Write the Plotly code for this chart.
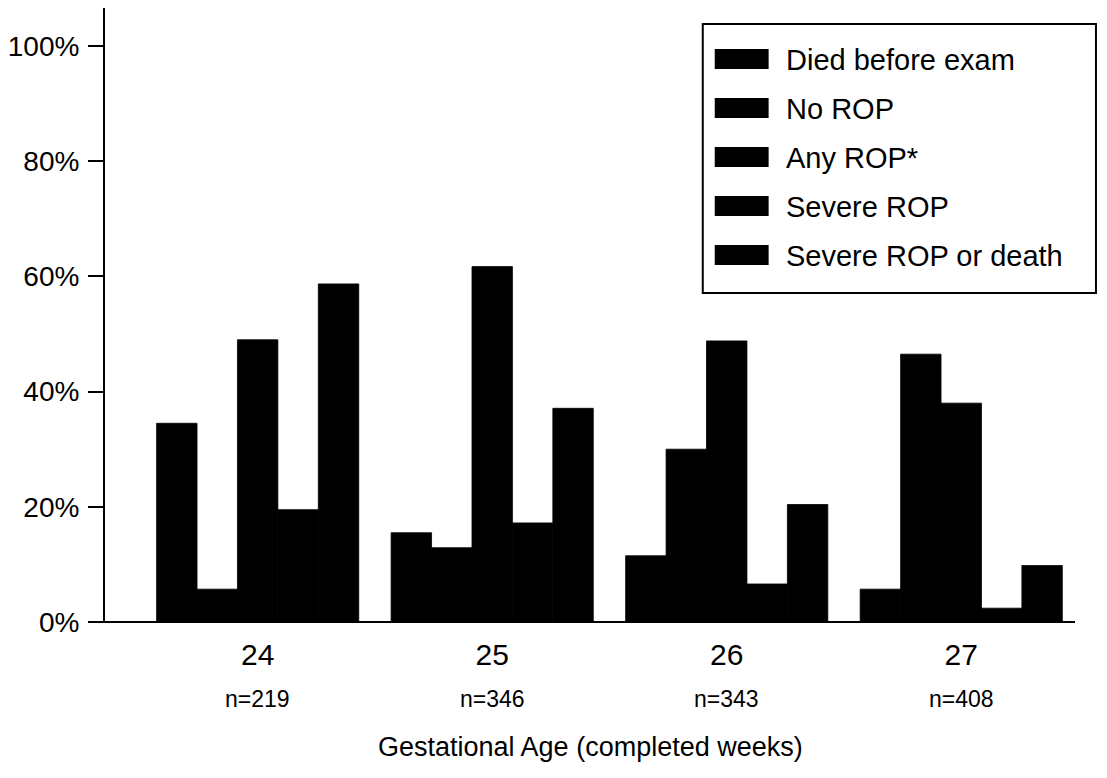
import plotly.graph_objects as go

categories = ["24", "25", "26", "27"]
n_labels = ["n=219", "n=346", "n=343", "n=408"]
series_names = ["Died before exam", "No ROP", "Any ROP*", "Severe ROP", "Severe ROP or death"]
died = [34.5, 15.5, 11.5, 5.7]
no_rop = [5.7, 12.9, 30.0, 46.5]
any_rop = [49.0, 61.7, 48.8, 38.0]
severe = [19.5, 17.2, 6.6, 2.4]
severe_or_death = [58.7, 37.1, 20.4, 9.8]
series_values = [died, no_rop, any_rop, severe, severe_or_death]
y_ticks = [0, 20, 40, 60, 80, 100]
y_tick_labels = [f"{v}%" for v in y_ticks]

# page body has an 8px margin; work in screen pixels
OFF = 8
FW, FH = 1091, 762
S_LEFT, S_RIGHT, S_TOP, S_BOTTOM = 103, 1075, 8, 622
L = S_LEFT - OFF
T = S_TOP - OFF
R = FW - (S_RIGHT - OFF)
B = FH - (S_BOTTOM - OFF)
pw = S_RIGHT - S_LEFT
ph = S_BOTTOM - S_TOP

def sx(px):
    return (px - S_LEFT) / pw

def sy(py):
    return (S_BOTTOM - py) / ph

FONT = "Arial, Liberation Sans, sans-serif"
xpos = list(range(len(categories)))

fig = go.Figure()
for name, vals in zip(series_names, series_values):
    fig.add_trace(go.Bar(x=xpos, y=vals, name=name,
                         marker=dict(color="black", line=dict(width=0.8, color="black")),
                         showlegend=False))

annotations = []
for i, t in enumerate(n_labels):
    annotations.append(dict(x=xpos[i], y=0, xref="x", yref="paper", yshift=-(699 - S_BOTTOM),
                            text=t, showarrow=False,
                            font=dict(size=23, color="black", family=FONT),
                            yanchor="middle", xanchor="center"))
annotations.append(dict(x=0.5, y=sy(747), xref="paper", yref="paper",
                        text="Gestational Age (completed weeks)", showarrow=False,
                        font=dict(size=27, color="black", family=FONT),
                        xanchor="center", yanchor="middle"))

shapes = []
# legend box
shapes.append(dict(type="rect", xref="paper", yref="paper", x0=sx(702), x1=sx(1096),
                   y0=sy(293), y1=sy(24), line=dict(color="black", width=2),
                   fillcolor="white", layer="above"))
for i, name in enumerate(series_names):
    cy = 59 + i * 49
    shapes.append(dict(type="rect", xref="paper", yref="paper", x0=sx(714), x1=sx(768),
                       y0=sy(cy + 10), y1=sy(cy - 10), line=dict(width=0),
                       fillcolor="black", layer="above"))
    annotations.append(dict(x=sx(783), y=sy(cy + 1), xref="paper", yref="paper", text=name,
                            showarrow=False, xanchor="left", yanchor="middle",
                            font=dict(size=29, color="black", family=FONT)))
# x axis baseline extending left of y axis
shapes.append(dict(type="line", xref="paper", yref="paper", x0=sx(87), x1=1.0, y0=0, y1=0,
                   line=dict(color="black", width=2), layer="above"))

fig.update_layout(
    width=FW, height=FH, margin=dict(l=L, r=R, t=T, b=B, pad=0),
    paper_bgcolor="white", plot_bgcolor="white",
    barmode="group", bargap=0.138, bargroupgap=0,
    font=dict(family=FONT, color="black"),
    xaxis=dict(range=[-0.651, 3.485], tickvals=xpos, ticktext=categories, showgrid=False,
               zeroline=False, showline=False, ticks="", ticklabelstandoff=12,
               tickfont=dict(size=30, color="black")),
    yaxis=dict(range=[0, 106.6], tickvals=y_ticks, ticktext=y_tick_labels, showgrid=False,
               zeroline=False, showline=True, linecolor="black", linewidth=2,
               ticks="outside", ticklen=15, tickwidth=2, tickcolor="black",
               ticklabelstandoff=3, tickfont=dict(size=28, color="black")),
    shapes=shapes, annotations=annotations,
)

fig.write_html("out.html")
